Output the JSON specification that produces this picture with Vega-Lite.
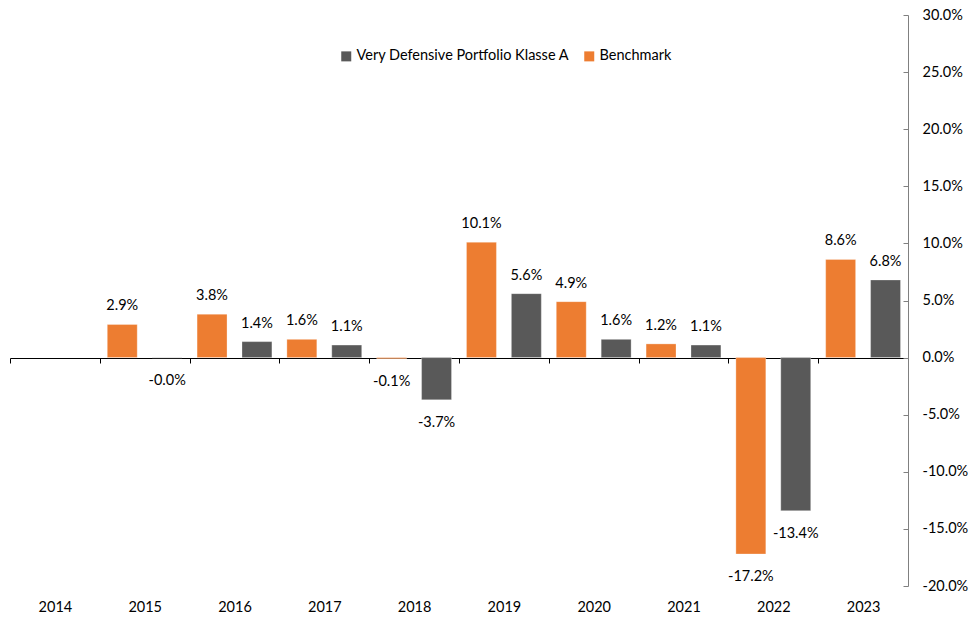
{
  "$schema": "https://vega.github.io/schema/vega-lite/v6.json",
  "width": 898,
  "height": 571,
  "autosize": {"type": "none"},
  "padding": {"left": 10, "top": 15, "right": 61, "bottom": 37},
  "background": "white",
  "config": {
    "view": {"stroke": null},
    "font": "Lato",
    "text": {"font": "Lato", "fontSize": 14.5, "color": "#000000"}
  },
  "data": {
    "values": [
      {"year": "2015", "series": "Benchmark", "value": 2.9, "label": "2.9%"},
      {"year": "2015", "series": "Very Defensive Portfolio Klasse A", "value": -0.02, "label": "-0.0%"},
      {"year": "2016", "series": "Benchmark", "value": 3.8, "label": "3.8%"},
      {"year": "2016", "series": "Very Defensive Portfolio Klasse A", "value": 1.4, "label": "1.4%"},
      {"year": "2017", "series": "Benchmark", "value": 1.6, "label": "1.6%"},
      {"year": "2017", "series": "Very Defensive Portfolio Klasse A", "value": 1.1, "label": "1.1%"},
      {"year": "2018", "series": "Benchmark", "value": -0.1, "label": "-0.1%"},
      {"year": "2018", "series": "Very Defensive Portfolio Klasse A", "value": -3.7, "label": "-3.7%"},
      {"year": "2019", "series": "Benchmark", "value": 10.1, "label": "10.1%"},
      {"year": "2019", "series": "Very Defensive Portfolio Klasse A", "value": 5.6, "label": "5.6%"},
      {"year": "2020", "series": "Benchmark", "value": 4.9, "label": "4.9%"},
      {"year": "2020", "series": "Very Defensive Portfolio Klasse A", "value": 1.6, "label": "1.6%"},
      {"year": "2021", "series": "Benchmark", "value": 1.2, "label": "1.2%"},
      {"year": "2021", "series": "Very Defensive Portfolio Klasse A", "value": 1.1, "label": "1.1%"},
      {"year": "2022", "series": "Benchmark", "value": -17.2, "label": "-17.2%"},
      {"year": "2022", "series": "Very Defensive Portfolio Klasse A", "value": -13.4, "label": "-13.4%"},
      {"year": "2023", "series": "Benchmark", "value": 8.6, "label": "8.6%"},
      {"year": "2023", "series": "Very Defensive Portfolio Klasse A", "value": 6.8, "label": "6.8%"}
    ]
  },
  "encoding": {
    "x": {
      "field": "year",
      "type": "nominal",
      "scale": {
        "domain": ["2014", "2015", "2016", "2017", "2018", "2019", "2020", "2021", "2022", "2023"],
        "paddingInner": 0,
        "paddingOuter": 0
      },
      "axis": {
        "title": null,
        "orient": "bottom",
        "offset": -228,
        "domainColor": "#000000",
        "domainWidth": 1,
        "tickBand": "extent",
        "tickColor": "#000000",
        "tickSize": 5,
        "labelAngle": 0,
        "labelPadding": 237,
        "labelFontSize": 14.5,
        "labelFont": "Lato",
        "labelColor": "#000000",
        "grid": false
      }
    },
    "xOffset": {
      "field": "series",
      "type": "nominal",
      "sort": ["Benchmark", "Very Defensive Portfolio Klasse A"],
      "scale": {"paddingInner": 0.333, "paddingOuter": 0.1667}
    },
    "y": {
      "field": "value",
      "type": "quantitative",
      "scale": {"domain": [-20, 30], "nice": false, "zero": false},
      "axis": {
        "title": null,
        "orient": "right",
        "values": [-20, -15, -10, -5, 0, 5, 10, 15, 20, 25, 30],
        "labelExpr": "(datum.value < 0 ? '-' : '') + format(abs(datum.value), '.1f') + '%'",
        "domainColor": "#808080",
        "tickColor": "#808080",
        "tickSize": -5,
        "labelPadding": 19,
        "labelFontSize": 14.5,
        "labelFont": "Lato",
        "labelColor": "#000000",
        "grid": false
      }
    }
  },
  "layer": [
    {
      "mark": {"type": "bar", "stroke": "#ffffff", "strokeWidth": 0.5, "strokeOpacity": 0.6},
      "encoding": {
        "color": {
          "field": "series",
          "type": "nominal",
          "scale": {
            "domain": ["Very Defensive Portfolio Klasse A", "Benchmark"],
            "range": ["#595959", "#ED7D31"]
          },
          "legend": {
            "title": null,
            "orient": "none",
            "legendX": 329,
            "legendY": 34,
            "direction": "horizontal",
            "symbolType": "square",
            "symbolSize": 100,
            "symbolStrokeWidth": 0,
            "labelFontSize": 14.5,
            "labelFont": "Lato",
            "labelColor": "#000000",
            "labelLimit": 400,
            "labelOffset": 3,
            "columnPadding": 12,
            "padding": 0
          }
        }
      }
    },
    {
      "transform": [{"filter": "datum.value >= 0"}],
      "mark": {"type": "text", "baseline": "alphabetic", "dy": -14},
      "encoding": {"text": {"field": "label", "type": "nominal"}}
    },
    {
      "transform": [{"filter": "datum.value < 0"}],
      "mark": {"type": "text", "baseline": "top", "dy": 16},
      "encoding": {"text": {"field": "label", "type": "nominal"}}
    }
  ]
}
